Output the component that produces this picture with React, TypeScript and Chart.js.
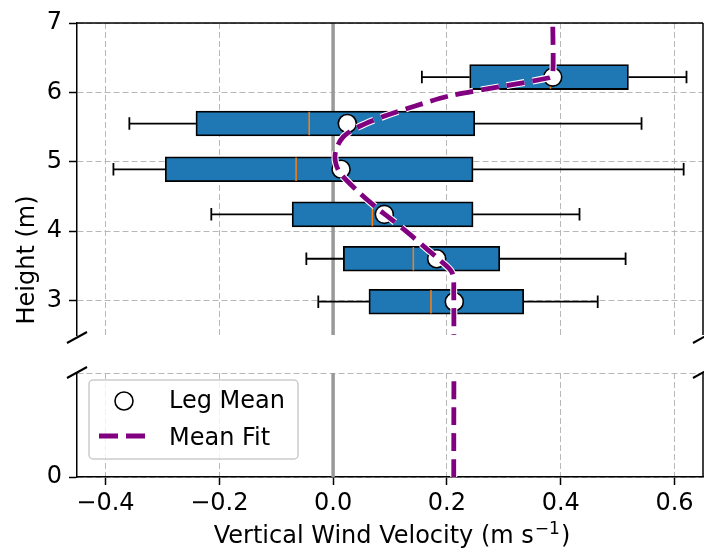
import React, { useEffect, useRef } from 'react';
import { Chart, registerables } from 'chart.js';

Chart.register(...registerables);
Chart.defaults.font.family = "'DejaVu Sans', sans-serif";
Chart.defaults.font.size = 24;
Chart.defaults.color = '#000';

// ---------------- data ----------------
const legHeights = [2.98, 3.6, 4.24, 4.89, 5.55, 6.22];
const whiskerLow = [-0.026, -0.047, -0.214, -0.386, -0.358, 0.156];
const quartile1 = [0.063, 0.018, -0.072, -0.295, -0.241, 0.24];
const medians = [0.172, 0.141, 0.069, -0.065, -0.042, 0.382];
const quartile3 = [0.335, 0.293, 0.246, 0.246, 0.249, 0.519];
const whiskerHigh = [0.465, 0.514, 0.433, 0.616, 0.542, 0.621];
const legMeans = [0.213, 0.182, 0.09, 0.014, 0.025, 0.386];

const fitHeights = [0, 3.11, 3.4, 3.59, 3.76, 3.95, 4.19, 4.31, 4.6, 4.84, 5.0, 5.17, 5.36, 5.5, 5.65, 5.81, 5.95, 6.08, 6.21, 6.25, 7.0];
const fitVelocity = [0.212, 0.212, 0.209, 0.186, 0.162, 0.135, 0.099, 0.08, 0.04, 0.012, 0.004, 0.005, 0.018, 0.044, 0.088, 0.147, 0.205, 0.293, 0.38, 0.386, 0.386];

const xTicks = [-0.4, -0.2, 0, 0.2, 0.4, 0.6];
const yTicksTop = [3, 4, 5, 6, 7];
const yTicksBottom = [0, 1.5];
const xRange = [-0.45, 0.65];
const yRangeTop = [2.5, 7];
const yRangeBottom = [0, 1.5];
const zeroVelocity = 0;

// ---------------- styling ----------------
const FONT = "'DejaVu Sans', sans-serif";
const FS = 24;
const BOX_HALF = 0.17; // half box height in axis units (median line length)
const CAP_HALF = 0.09; // half whisker cap height in axis units
const GRID = '#b8b8b8';
const GRID_DASH = [6, 3];
const FIT_COLOR = '#800080';
const FIT_DASH = [18, 8];
const GAP = { x: NaN, y: NaN };

const fmtX = (v: number) => (v < 0 ? '\u2212' : '') + Math.abs(v).toFixed(1);

const fitData = fitHeights.map((h, i) => ({ x: fitVelocity[i], y: h }));

function fitDatasets() {
  return [
    {
      type: 'line', data: fitData, borderColor: '#ffffff', borderWidth: 7,
      borderDash: FIT_DASH, borderCapStyle: 'butt', tension: 0.3, pointRadius: 0, clip: 0, order: 5,
    },
    {
      type: 'line', data: fitData, borderColor: FIT_COLOR, borderWidth: 4.8,
      borderDash: FIT_DASH, borderCapStyle: 'butt', tension: 0.3, pointRadius: 0, clip: 0, order: 4,
    },
  ];
}

function zeroLine(range: number[]) {
  return {
    type: 'line',
    data: [{ x: zeroVelocity, y: range[0] }, { x: zeroVelocity, y: range[1] }],
    borderColor: '#999999', borderWidth: 3.5, pointRadius: 0, order: 10,
  };
}

function topDatasets() {
  const whiskers = legHeights.flatMap((h, i) => [
    { x: whiskerLow[i], y: h }, { x: quartile1[i], y: h }, GAP,
    { x: quartile3[i], y: h }, { x: whiskerHigh[i], y: h }, GAP,
    { x: whiskerLow[i], y: h - CAP_HALF }, { x: whiskerLow[i], y: h + CAP_HALF }, GAP,
    { x: whiskerHigh[i], y: h - CAP_HALF }, { x: whiskerHigh[i], y: h + CAP_HALF }, GAP,
  ]);
  const medianSegs = legHeights.flatMap((h, i) => [
    { x: medians[i], y: h - BOX_HALF }, { x: medians[i], y: h + BOX_HALF }, GAP,
  ]);
  return [
    zeroLine(yRangeTop),
    {
      type: 'line', data: whiskers, borderColor: '#000', borderWidth: 1.8,
      pointRadius: 0, order: 9,
    },
    {
      type: 'bar',
      data: legHeights.map((h, i) => ({ y: h, x: [quartile1[i], quartile3[i]] })),
      backgroundColor: '#1f77b4', borderColor: '#000', borderWidth: 1.8,
      borderSkipped: false, barThickness: 25, order: 8,
    },
    {
      type: 'line', data: medianSegs, borderColor: '#ff7f0e', borderWidth: 1.5,
      pointRadius: 0, order: 7,
    },
    {
      type: 'line', data: legHeights.map((h, i) => ({ x: legMeans[i], y: h })),
      showLine: false, pointRadius: 9, pointBackgroundColor: '#ffffff',
      pointBorderColor: '#000', pointBorderWidth: 1.6, order: 6,
    },
    ...fitDatasets(),
  ];
}

function framePlugin(panel: 'top' | 'bottom') {
  return {
    id: 'frame-' + panel,
    afterDraw(chart: any) {
      const { ctx, chartArea: a } = chart;
      ctx.save();
      ctx.strokeStyle = '#000';
      ctx.lineWidth = 1.5;
      ctx.beginPath();
      if (panel === 'top') {
        ctx.moveTo(a.left, a.top);
        ctx.lineTo(a.right, a.top);
      }
      ctx.moveTo(a.right, a.top);
      ctx.lineTo(a.right, a.bottom);
      ctx.stroke();
      const yb = panel === 'top' ? a.bottom + 2.5 : a.top - 0.5;
      ctx.lineWidth = 2;
      ctx.beginPath();
      for (const xb of [a.left, a.right]) {
        ctx.moveTo(xb - 10, yb + 5.5);
        ctx.lineTo(xb + 10, yb - 5.5);
      }
      ctx.stroke();
      ctx.restore();
    },
  };
}

const yTitlePlugin = {
  id: 'ytitle',
  afterDraw(chart: any) {
    const { ctx } = chart;
    ctx.save();
    ctx.translate(28, 260);
    ctx.rotate(-Math.PI / 2);
    ctx.font = `${FS}px ${FONT}`;
    ctx.fillStyle = '#000';
    ctx.textAlign = 'center';
    ctx.textBaseline = 'middle';
    ctx.fillText('Height (m)', 0, 0);
    ctx.restore();
  },
};

// x-axis title with a real raised exponent
const xTitlePlugin = {
  id: 'xtitle',
  afterDraw(chart: any) {
    const { ctx, chartArea: a } = chart;
    const main = 'Vertical Wind Velocity (m s';
    const sup = '\u22121';
    const close = ')';
    ctx.save();
    ctx.fillStyle = '#000';
    ctx.textBaseline = 'alphabetic';
    ctx.textAlign = 'left';
    ctx.font = `${FS}px ${FONT}`;
    const w1 = ctx.measureText(main).width;
    const w3 = ctx.measureText(close).width;
    ctx.font = `${Math.round(FS * 0.7)}px ${FONT}`;
    const w2 = ctx.measureText(sup).width;
    const total = w1 + 1 + w2 + 1 + w3;
    const cx = (a.left + a.right) / 2 + 2;
    const base = a.bottom + 66;
    let x = cx - total / 2;
    ctx.font = `${FS}px ${FONT}`;
    ctx.fillText(main, x, base);
    x += w1 + 1;
    ctx.font = `${Math.round(FS * 0.7)}px ${FONT}`;
    ctx.fillText(sup, x, base - 9);
    x += w2 + 1;
    ctx.font = `${FS}px ${FONT}`;
    ctx.fillText(close, x, base);
    ctx.restore();
  },
};

const legendPlugin = {
  id: 'boxlegend',
  afterDraw(chart: any) {
    const { ctx, chartArea: a } = chart;
    const L = a.left + 12;
    const T = a.top + 7;
    const W = 209;
    const H = 79;
    const r = 4;
    ctx.save();
    ctx.beginPath();
    ctx.moveTo(L + r, T);
    ctx.lineTo(L + W - r, T);
    ctx.arcTo(L + W, T, L + W, T + r, r);
    ctx.lineTo(L + W, T + H - r);
    ctx.arcTo(L + W, T + H, L + W - r, T + H, r);
    ctx.lineTo(L + r, T + H);
    ctx.arcTo(L, T + H, L, T + H - r, r);
    ctx.lineTo(L, T + r);
    ctx.arcTo(L, T, L + r, T, r);
    ctx.closePath();
    ctx.fillStyle = 'rgba(255,255,255,0.8)';
    ctx.fill();
    ctx.strokeStyle = '#cccccc';
    ctx.lineWidth = 1.5;
    ctx.stroke();

    ctx.beginPath();
    ctx.arc(L + 35, T + 21, 9, 0, Math.PI * 2);
    ctx.fillStyle = '#fff';
    ctx.fill();
    ctx.strokeStyle = '#000';
    ctx.lineWidth = 1.6;
    ctx.stroke();

    ctx.beginPath();
    ctx.setLineDash([19, 8]);
    ctx.lineCap = 'butt';
    ctx.strokeStyle = FIT_COLOR;
    ctx.lineWidth = 4.8;
    ctx.moveTo(L + 10, T + 56);
    ctx.lineTo(L + 57, T + 56);
    ctx.stroke();
    ctx.setLineDash([]);

    ctx.font = `${FS}px ${FONT}`;
    ctx.fillStyle = '#000';
    ctx.textAlign = 'left';
    ctx.textBaseline = 'alphabetic';
    ctx.fillText('Leg Mean', L + 80, T + 28);
    ctx.fillText('Mean Fit', L + 80, T + 65);
    ctx.restore();
  },
};

const zeroPad = (s: any) => {
  s.paddingLeft = 0;
  s.paddingRight = 0;
};

function xScale(bottomPanel: boolean): any {
  return {
    type: 'linear', min: xRange[0], max: xRange[1], offset: false,
    afterBuildTicks: (s: any) => { s.ticks = xTicks.map((value) => ({ value })); },
    afterFit: (s: any) => { s.height = bottomPanel ? 74 : 0; zeroPad(s); },
    ticks: {
      color: bottomPanel ? '#000' : 'rgba(0,0,0,0)', padding: 4, maxRotation: 0, minRotation: 0,
      autoSkip: false, callback: (v: number) => fmtX(v),
    },
    grid: {
      color: GRID, lineWidth: 1, drawTicks: bottomPanel, tickLength: 8,
      tickColor: '#000', tickWidth: 1.5, tickBorderDash: [], offset: false,
    },
    border: { display: bottomPanel, color: '#000', width: 1.5, dash: GRID_DASH },
  };
}

function topConfig(): any {
  return {
    type: 'bar',
    data: { datasets: topDatasets() },
    options: {
      responsive: false,
      animation: false,
      events: [],
      indexAxis: 'y',
      layout: { autoPadding: false, padding: { top: 23, right: 1, bottom: 216, left: 0 } },
      plugins: { legend: { display: false }, tooltip: { enabled: false } },
      scales: {
        x: xScale(false),
        y: {
          type: 'linear', min: yRangeTop[0], max: yRangeTop[1], offset: false,
          afterBuildTicks: (s: any) => { s.ticks = yTicksTop.map((value) => ({ value })); },
          afterFit: (s: any) => { s.width = 77; },
          ticks: { color: '#000', padding: 7, callback: (v: number) => String(v) },
          grid: {
            color: GRID, lineWidth: 1, drawTicks: true, tickLength: 8,
            tickColor: '#000', tickWidth: 1.5, tickBorderDash: [], offset: false,
          },
          border: { display: true, color: '#000', width: 1.5, dash: GRID_DASH },
        },
      },
    },
    plugins: [framePlugin('top'), yTitlePlugin],
  };
}

function bottomConfig(): any {
  return {
    type: 'bar',
    data: { datasets: [zeroLine(yRangeBottom), ...fitDatasets()] },
    options: {
      responsive: false,
      animation: false,
      events: [],
      indexAxis: 'y',
      layout: { autoPadding: false, padding: { top: 373, right: 1, bottom: 0, left: 0 } },
      plugins: { legend: { display: false }, tooltip: { enabled: false } },
      scales: {
        x: xScale(true),
        y: {
          type: 'linear', min: yRangeBottom[0], max: yRangeBottom[1], offset: false,
          afterBuildTicks: (s: any) => { s.ticks = yTicksBottom.map((value) => ({ value })); },
          afterFit: (s: any) => { s.width = 77; },
          ticks: { color: '#000', padding: 7, callback: (v: number) => (v === 0 ? '0' : '') },
          grid: {
            color: GRID, lineWidth: 1, drawTicks: true, tickLength: 8,
            tickColor: (c: any) => (c.tick && c.tick.value === 0 ? '#000' : 'rgba(0,0,0,0)'),
            tickWidth: 1.5, tickBorderDash: [], offset: false,
          },
          border: { display: true, color: '#000', width: 1.5, dash: GRID_DASH },
        },
      },
    },
    plugins: [framePlugin('bottom'), legendPlugin, xTitlePlugin],
  };
}

export default function App() {
  const topRef = useRef<HTMLCanvasElement>(null);
  const botRef = useRef<HTMLCanvasElement>(null);
  useEffect(() => {
    const top = new Chart(topRef.current as HTMLCanvasElement, topConfig());
    const bot = new Chart(botRef.current as HTMLCanvasElement, bottomConfig());
    return () => {
      top.destroy();
      bot.destroy();
    };
  }, []);
  return (
    <div style={{ position: 'fixed', left: 0, top: 0, width: 704, height: 551, background: '#fff', overflow: 'hidden' }}>
      <canvas ref={topRef} width={704} height={551} style={{ position: 'absolute', left: 0, top: 0 }} />
      <canvas ref={botRef} width={704} height={551} style={{ position: 'absolute', left: 0, top: 0 }} />
    </div>
  );
}
